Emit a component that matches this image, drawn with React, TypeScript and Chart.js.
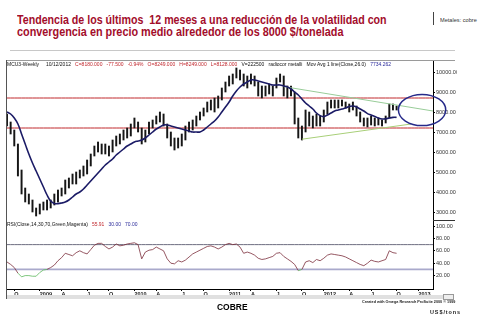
import React, { useEffect, useLayoutEffect, useRef } from 'react';
import { Chart, registerables } from 'chart.js';

Chart.register(...registerables);

// ---------- categories (bi-weekly sessions, LME copper 3M) ----------
const START_UTC = Date.UTC(2008, 8, 5);
const STEP_DAYS = 14;
const AXIS_POINTS = 118;
const DATES: string[] = Array.from({ length: AXIS_POINTS }, (_, k) =>
  new Date(START_UTC + k * STEP_DAYS * 86400000).toISOString().slice(0, 10)
);
const QUARTER_MARKS: Record<number, string> = { 4: 'A', 7: 'J', 10: 'O' };

// ---------- series ----------
const LOW = [
  7300, 6900, 6300, 4800, 3900, 3500, 3400, 3000, 2800, 2900,
  3100, 3100, 3200, 3350, 3500, 3800, 3900, 4200, 4400, 4400,
  4700, 4800, 4900, 5300, 5800, 6000, 5900, 5900, 5800, 6000,
  6300, 6400, 6600, 6700, 6800, 7200, 7000, 6400, 6500, 6900,
  7200, 7400, 7500, 7300, 6700, 6300, 6100, 6200, 6300, 6600,
  7000, 7100, 7300, 7600, 7800, 8000, 8100, 8000, 8200, 8600,
  9000, 9300, 9400, 9700, 9600, 9300, 9200, 9400, 9300, 8800,
  8700, 8800, 8900, 8800, 9200, 9500, 8800, 8700, 8800, 7400,
  6700, 6600, 7000, 7300, 7200, 7300, 7300, 7500, 7900, 8200,
  8200, 8200, 8300, 8200, 8000, 8100, 7800, 7500, 7300, 7250,
  7350, 7300, 7350, 7300, 7450, 7700, 8100, 8100,
];
const HIGH = [
  7900, 7500, 7100, 6400, 5100, 4200, 3900, 3600, 3200, 3400,
  3500, 3600, 3600, 3900, 4100, 4200, 4600, 4700, 4900, 5000,
  5100, 5300, 5600, 5900, 6300, 6500, 6400, 6400, 6300, 6600,
  6800, 6900, 7100, 7200, 7400, 7700, 7500, 7200, 7100, 7500,
  7600, 7800, 8000, 7900, 7400, 7000, 6700, 6700, 6900, 7300,
  7500, 7600, 7800, 8000, 8200, 8500, 8600, 8700, 8800, 9200,
  9500, 9800, 9900, 10200, 10100, 9900, 9800, 9900, 9800, 9500,
  9300, 9300, 9400, 9300, 9700, 9900, 9800, 9300, 9300, 9000,
  7700, 7300, 8100, 8000, 7800, 7900, 7800, 8100, 8500, 8600,
  8600, 8600, 8600, 8500, 8400, 8500, 8300, 8000, 7700, 7700,
  7800, 7700, 7700, 7600, 7800, 8400, 8400, 8300,
];
const MA26 = [
  8000, 7900, 7700, 7400, 6900, 6400, 5900, 5450, 5050, 4650,
  4250, 3850, 3550, 3430, 3420, 3450, 3500, 3600, 3750, 3900,
  4000, 4150, 4350, 4550, 4750, 4950, 5150, 5350, 5500, 5650,
  5850, 6000, 6150, 6300, 6400, 6500, 6550, 6600, 6700, 6850,
  7000, 7150, 7250, 7350, 7350, 7300, 7250, 7200, 7150, 7100,
  7050, 7000, 7000, 7000, 7100, 7250, 7400, 7550, 7750, 8000,
  8250, 8500, 8800, 9050, 9250, 9400, 9500, 9600, 9600, 9550,
  9500, 9450, 9400, 9350, 9350, 9350, 9300, 9250, 9150, 9000,
  8850, 8650, 8450, 8300, 8150, 7950, 7820, 7770, 7850, 7950,
  8050, 8100, 8150, 8200, 8280, 8300, 8250, 8150, 8050, 7920,
  7850, 7780, 7700, 7650, 7660, 7700, 7730, 7734,
];
const RSI14 = [
  42, 38, 33, 24, 18, 20, 20, 19, 19, 25,
  29, 30, 33, 37, 44, 49, 56, 54, 52, 57,
  60, 57, 55, 62, 69, 72, 72, 67, 63, 66,
  71, 68, 69, 71, 72, 73, 70, 47, 58, 61,
  62, 66, 63, 60, 47, 40, 39, 44, 42, 45,
  50, 55, 58, 61, 64, 67, 68, 66, 63, 66,
  70, 72, 70, 71, 66, 56, 58, 56, 53, 48,
  46, 47, 49, 51, 56, 57, 51, 47, 43, 38,
  28, 30, 42, 44, 41, 46, 44, 48, 53, 55,
  54, 53, 52, 50, 47, 44, 41, 38, 36, 40,
  45, 43, 42, 44, 46, 60, 57, 56,
];
const RESISTANCE = 8700;
const SUPPORT = 7200;
const RSI_OVERBOUGHT = 70;
const RSI_OVERSOLD = 30;
const TREND_UPPER: [string, number][] = [['2011-08-05', 9270], ['2013-03-01', 8050]];
const TREND_LOWER: [string, number][] = [['2011-10-14', 6640], ['2012-12-07', 7400]];
const FOCUS = { centerDate: '2013-01-18', halfWeeks: 13, centerPrice: 8100, halfPrice: 780 };
const PRICE_TICKS = [3000, 4000, 5000, 6000, 7000, 8000, 9000, 10000];
const RSI_TICKS = [20, 40, 60, 80, 100];

const trend = (pts: [string, number][]) => {
  const arr: (number | null)[] = DATES.map(() => null);
  pts.forEach(([d, v]) => { arr[DATES.indexOf(d)] = v; });
  return arr;
};

const FONT = 'Arial, "Liberation Sans", sans-serif';

const decor = {
  id: 'decor',
  afterDatasetsDraw(chart: any) {
    const { ctx, scales } = chart;
    const x = scales.x, y = scales.y;
    const cx = x.getPixelForValue(DATES.indexOf(FOCUS.centerDate));
    const rx = x.getPixelForValue(FOCUS.halfWeeks / 2) - x.getPixelForValue(0);
    const cy = y.getPixelForValue(FOCUS.centerPrice);
    const ry = Math.abs(y.getPixelForValue(FOCUS.centerPrice + FOCUS.halfPrice) - cy);
    ctx.save();
    ctx.beginPath();
    ctx.ellipse(cx, cy, rx, ry, 0, 0, Math.PI * 2);
    ctx.strokeStyle = '#262a8a';
    ctx.lineWidth = 1.5;
    ctx.stroke();
    ctx.restore();
  },
  afterDraw(chart: any) {
    const { ctx, chartArea, scales } = chart;
    ctx.save();
    ctx.lineWidth = 1;
    ctx.strokeStyle = '#9a9a9a';
    ctx.beginPath();
    ctx.moveTo(chartArea.left, chartArea.top + 0.5);
    ctx.lineTo(chartArea.right + 22, chartArea.top + 0.5);
    ctx.stroke();
    ctx.strokeStyle = '#555';
    ctx.beginPath();
    ctx.moveTo(chartArea.left - 0.5, chartArea.top);
    ctx.lineTo(chartArea.left - 0.5, chartArea.bottom + 10);
    ctx.stroke();
    ctx.strokeStyle = '#333';
    ctx.beginPath();
    const sy = Math.round(scales.yR.top) + 0.5;
    ctx.moveTo(chartArea.right, sy);
    ctx.lineTo(chartArea.right + 22, sy);
    ctx.stroke();
    ctx.restore();
  },
};

function Fit({ width, style, children }: { width: number; style: any; children: any }) {
  const ref = useRef<HTMLDivElement>(null);
  useLayoutEffect(() => {
    const el = ref.current;
    if (!el) return;
    el.style.transform = '';
    const w = el.scrollWidth;
    if (w > 0) el.style.transform = `scaleX(${width / w})`;
  }, []);
  return (
    <div
      ref={ref}
      style={{ position: 'absolute', whiteSpace: 'pre', transformOrigin: 'left top', display: 'inline-block', ...style }}
    >
      {children}
    </div>
  );
}

export default function App() {
  const canvasRef = useRef<HTMLCanvasElement>(null);

  useEffect(() => {
    if (!canvasRef.current) return;
    const tickFont = { family: FONT, size: 5.5 };
    const chart = new Chart(canvasRef.current, {
      type: 'bar',
      data: {
        labels: DATES,
        datasets: [
          {
            type: 'line',
            data: MA26,
            yAxisID: 'y',
            borderColor: '#1b1b66',
            borderWidth: 1.6,
            pointRadius: 0,
            tension: 0.4,
            order: 1,
          } as any,
          {
            type: 'line',
            data: trend(TREND_UPPER),
            yAxisID: 'y',
            borderColor: '#98cc98',
            borderWidth: 1,
            pointRadius: 0,
            spanGaps: true,
            order: 2,
          },
          {
            type: 'line',
            data: trend(TREND_LOWER),
            yAxisID: 'y',
            borderColor: '#a8cf78',
            borderWidth: 1,
            pointRadius: 0,
            spanGaps: true,
            order: 2,
          },
          {
            type: 'bar',
            data: LOW.map((l, i) => [l, HIGH[i]]),
            yAxisID: 'y',
            backgroundColor: '#161616',
            barThickness: 1.3,
            order: 3,
          } as any,
          {
            type: 'line',
            data: DATES.map(() => RESISTANCE),
            yAxisID: 'y',
            borderColor: '#c0282c',
            borderWidth: 1,
            pointRadius: 0,
            order: 4,
          },
          {
            type: 'line',
            data: DATES.map(() => SUPPORT),
            yAxisID: 'y',
            borderColor: '#c0282c',
            borderWidth: 1,
            pointRadius: 0,
            order: 4,
          },
          {
            type: 'line',
            data: RSI14,
            yAxisID: 'yR',
            borderColor: '#7b2d3b',
            borderWidth: 0.8,
            pointRadius: 0,
            segment: {
              borderColor: (c: any) =>
                c.p0.parsed.y <= RSI_OVERSOLD + 0.5 && c.p1.parsed.y <= RSI_OVERSOLD + 0.5 ? '#5cb85c' : '#7b2d3b',
            },
            order: 1,
          } as any,
          {
            type: 'line',
            data: DATES.map(() => RSI_OVERBOUGHT),
            yAxisID: 'yR',
            borderColor: '#6e6e80',
            borderWidth: 1,
            pointRadius: 0,
            order: 5,
          },
          {
            type: 'line',
            data: DATES.map(() => RSI_OVERSOLD),
            yAxisID: 'yR',
            borderColor: '#a9a9cc',
            borderWidth: 1.6,
            pointRadius: 0,
            order: 5,
          },
        ],
      },
      options: {
        responsive: false,
        animation: false,
        events: [],
        layout: { padding: { left: 7, top: 60, right: 24, bottom: 26 } },
        plugins: { legend: { display: false }, tooltip: { enabled: false } },
        scales: {
          x: {
            type: 'category',
            offset: false,
            grid: { drawOnChartArea: false, tickLength: 2, color: '#000', offset: false },
            border: { display: true, color: '#000', width: 1 },
            ticks: {
              autoSkip: false,
              maxRotation: 0,
              minRotation: 0,
              align: 'start',
              padding: 0,
              color: '#222',
              font: { family: FONT, size: 5.5, weight: 'bold' },
              callback: (_v: any, i: number) => {
                const d = DATES[i];
                if (!d || i === 0) return null;
                const m = Number(d.slice(5, 7));
                const pm = Number(DATES[i - 1].slice(5, 7));
                if (m === pm) return null;
                if (m === 1) return d.slice(0, 4);
                return QUARTER_MARKS[m] ?? null;
              },
            },
            afterFit: (s: any) => { s.height = 6; },
          },
          y: {
            type: 'linear',
            position: 'right',
            stack: 'panels',
            stackWeight: 160,
            min: 2600,
            max: 10600,
            grid: { drawOnChartArea: false, tickLength: 2, color: '#000' },
            border: { display: true, color: '#000', width: 1 },
            afterBuildTicks: (s: any) => { s.ticks = PRICE_TICKS.map((value) => ({ value })); },
            ticks: { autoSkip: false, padding: 1, color: '#333', font: tickFont, callback: (v: any) => Number(v).toFixed(2) },
            afterFit: (s: any) => { s.width = 24; },
          } as any,
          yR: {
            type: 'linear',
            position: 'right',
            stack: 'panels',
            stackWeight: 69,
            min: -1.6,
            max: 109.7,
            grid: { drawOnChartArea: false, tickLength: 2, color: '#000' },
            border: { display: true, color: '#000', width: 1 },
            afterBuildTicks: (s: any) => { s.ticks = RSI_TICKS.map((value) => ({ value })); },
            ticks: { autoSkip: false, padding: 1, color: '#333', font: tickFont, callback: (v: any) => Number(v).toFixed(2) },
            afterFit: (s: any) => { s.width = 24; },
          } as any,
        },
      },
      plugins: [decor],
    } as any);
    return () => chart.destroy();
  }, []);

  const small = { fontFamily: FONT, fontSize: 5, lineHeight: '6px' };
  return (
    <div style={{ position: 'absolute', left: 0, top: 0, width: 481, height: 321, background: '#fff', overflow: 'hidden' }}>
      <Fit width={370} style={{ left: 17, top: 14, fontFamily: FONT, fontWeight: 'bold', fontSize: 12, lineHeight: '12px', color: '#a30d2b' }}>
        Tendencia de los últimos  12 meses a una reducción de la volatilidad con
      </Fit>
      <Fit width={326} style={{ left: 17, top: 26, fontFamily: FONT, fontWeight: 'bold', fontSize: 12, lineHeight: '12px', color: '#a30d2b' }}>
        convergencia en precio medio alrededor de los 8000 $/tonelada
      </Fit>
      <div style={{ position: 'absolute', left: 433, top: 12, width: 1, height: 13, background: '#444' }} />
      <Fit width={37} style={{ left: 440, top: 17, ...small, color: '#333' }}>Metales: cobre</Fit>
      <div style={{ position: 'absolute', left: 10, top: 50, width: 445, height: 1, background: '#c8c8c8' }} />
      <canvas ref={canvasRef} width={481} height={321} style={{ position: 'absolute', left: 0, top: 0 }} />
      <Fit width={384} style={{ left: 7, top: 61, ...small, color: '#111' }}>
        <span>MCU3-Weekly     10/12/2012   </span>
        <span style={{ color: '#c0262c' }}>C=8180.000   -77.500   -0.94%   O=8249.000   H=8249.000   L=8128.000   </span>
        <span>V=222500   radiocor metalli   Mov Avg 1 line(Close,26.0)   </span>
        <span style={{ color: '#2a2a9a' }}>7734.262</span>
      </Fit>
      <Fit width={131} style={{ left: 7, top: 221, ...small, color: '#111' }}>
        <span>RSI(Close,14,30,70,Green,Magenta)   </span>
        <span style={{ color: '#c0262c' }}>55.91   </span>
        <span style={{ color: '#2a2a9a' }}>30.00   70.00</span>
      </Fit>
      <div style={{ position: 'absolute', left: 7, top: 295, width: 436, height: 4, background: '#e0e0e0' }} />
      <div style={{ position: 'absolute', left: 443, top: 294, width: 9, height: 4, border: '1px solid #999', background: '#eee' }} />
      <Fit width={93} style={{ left: 362, top: 300, fontFamily: FONT, fontSize: 4, lineHeight: '4px', color: '#222', fontWeight: 'bold' }}>
        Created with Omega Research ProSuite 2000 © 1999
      </Fit>
      <Fit width={31} style={{ left: 217, top: 302, fontFamily: FONT, fontSize: 9, lineHeight: '10px', fontWeight: 'bold', color: '#000' }}>
        COBRE
      </Fit>
      <Fit width={31} style={{ left: 430, top: 309, fontFamily: FONT, fontSize: 6, lineHeight: '7px', fontWeight: 'bold', color: '#222', letterSpacing: '1px' }}>
        US$/tons
      </Fit>
    </div>
  );
}
